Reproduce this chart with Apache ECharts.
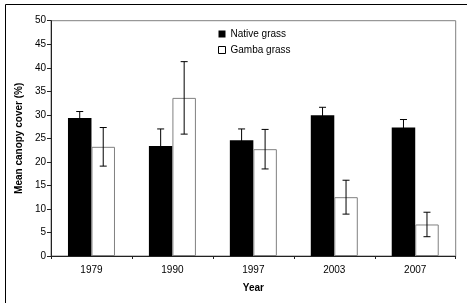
<!DOCTYPE html>
<html>
<head>
<meta charset="utf-8">
<script src="https://cdn.jsdelivr.net/npm/echarts@6/dist/echarts.min.js"></script>
<style>
  html, body { margin: 0; padding: 0; background: #fff; }
  #chart { width: 467px; height: 303px; }
</style>
</head>
<body>
<div id="chart"></div>
<script>
var years = ['1979', '1990', '1997', '2003', '2007'];
var nativeMean = [29.3, 23.4, 24.6, 29.9, 27.3];
var nativeErr = [1.4, 3.6, 2.4, 1.7, 1.7];
var gambaMean = [23.2, 33.6, 22.7, 12.5, 6.7];
var gambaErr = [4.1, 7.7, 4.2, 3.6, 2.6];
var yTicks = { min: 0, max: 50, step: 5 };

var font = 'Liberation Sans, Arial, sans-serif';
var halfBar = 11.75;

function errData(mean, err) {
  return mean.map(function (m, i) { return [i, m - err[i], m + err[i]]; });
}

function errRender(offset) {
  return function (params, api) {
    var lo = api.coord([api.value(0), api.value(1)]);
    var hi = api.coord([api.value(0), api.value(2)]);
    var x = lo[0] + offset;
    var cap = 3.5;
    var st = { stroke: '#000', lineWidth: 1 };
    return {
      type: 'group',
      children: [
        { type: 'line', shape: { x1: x, y1: lo[1], x2: x, y2: hi[1] }, style: st },
        { type: 'line', shape: { x1: x - cap, y1: hi[1], x2: x + cap, y2: hi[1] }, style: st },
        { type: 'line', shape: { x1: x - cap, y1: lo[1], x2: x + cap, y2: lo[1] }, style: st }
      ]
    };
  };
}

var myChart = echarts.init(document.getElementById('chart'));
var option = {
  animation: false,
  textStyle: { fontFamily: font },
  graphic: [{
    type: 'rect',
    shape: { x: 5.5, y: 4.5, width: 470, height: 310 },
    style: { fill: 'none', stroke: '#000', lineWidth: 1 },
    silent: true
  }],
  grid: {
    left: 51, top: 20.7, right: 11.3, bottom: 47,
    show: true, borderColor: '#808080', borderWidth: 1
  },
  legend: {
    orient: 'vertical',
    left: 213, top: 23,
    itemWidth: 7, itemHeight: 7, itemGap: 4,
    textStyle: { fontSize: 10, color: '#000', fontFamily: font, lineHeight: 12 },
    data: [
      { name: 'Native grass', icon: 'rect' },
      { name: 'Gamba grass', icon: 'rect', itemStyle: { color: '#fff', borderColor: '#000', borderWidth: 1 } }
    ]
  },
  xAxis: {
    type: 'category',
    data: years,
    name: 'Year',
    nameLocation: 'middle',
    nameGap: 27,
    nameTextStyle: { fontSize: 10, fontWeight: 'bold', color: '#000', fontFamily: font },
    axisLine: { lineStyle: { color: '#222', width: 1 } },
    axisTick: { show: true, length: 3, lineStyle: { color: '#222' } },
    axisLabel: { fontSize: 10, color: '#000', margin: 9, fontFamily: font }
  },
  yAxis: {
    type: 'value',
    min: yTicks.min, max: yTicks.max, interval: yTicks.step,
    name: 'Mean canopy cover (%)',
    nameLocation: 'middle',
    nameGap: 26,
    nameTextStyle: { fontSize: 10, fontWeight: 'bold', color: '#000', fontFamily: font },
    axisLine: { show: true, lineStyle: { color: '#222', width: 1 } },
    axisTick: { show: true, length: 4, lineStyle: { color: '#222' } },
    splitLine: { show: false },
    axisLabel: { fontSize: 10, color: '#000', margin: 5, fontFamily: font }
  },
  series: [
    {
      name: 'Native grass',
      type: 'bar',
      data: nativeMean,
      barWidth: 23.5,
      barGap: '0%',
      itemStyle: { color: '#000' }
    },
    {
      name: 'Gamba grass',
      type: 'bar',
      data: gambaMean,
      barWidth: 23.5,
      itemStyle: { color: '#fff', borderColor: '#808080', borderWidth: 1 }
    },
    {
      name: 'native-err',
      type: 'custom',
      data: errData(nativeMean, nativeErr),
      renderItem: errRender(-halfBar),
      encode: { x: 0, y: [1, 2] },
      z: 5
    },
    {
      name: 'gamba-err',
      type: 'custom',
      data: errData(gambaMean, gambaErr),
      renderItem: errRender(halfBar),
      encode: { x: 0, y: [1, 2] },
      z: 5
    }
  ]
};
myChart.setOption(option);
</script>
</body>
</html>
